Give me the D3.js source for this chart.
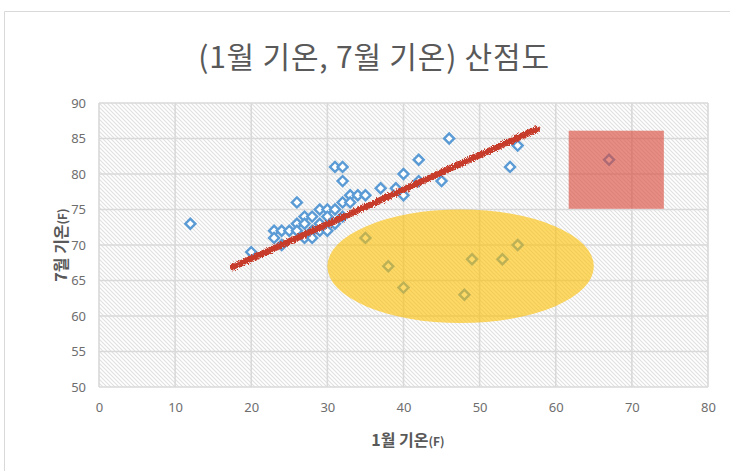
<!DOCTYPE html>
<html>
<head>
<meta charset="utf-8">
<script src="https://cdn.jsdelivr.net/npm/d3@7"></script>
<style>
  html, body { margin: 0; padding: 0; background: #fff; }
  svg { display: block; }
</style>
</head>
<body>
<svg id="chart" width="730" height="471"></svg>
<script>
// 1월 / 7월 평균 기온 (화씨)
const janTemp = [12, 20, 23, 23, 24, 24, 25, 26, 26, 26, 27, 27, 27, 28, 28, 28, 29, 29, 29, 30, 30, 30, 31, 31, 31, 32, 32, 32, 32, 33, 33, 34, 35, 37, 39, 40, 40, 42, 42, 45, 46, 54, 55,
                 35, 38, 40, 48, 49, 53, 55, 67];
const julTemp = [73, 69, 72, 71, 72, 70, 72, 76, 73, 72, 74, 73, 71, 74, 72, 71, 75, 73, 72, 75, 74, 72, 75, 81, 73, 81, 79, 76, 74, 77, 76, 77, 77, 78, 78, 80, 77, 82, 79, 79, 85, 81, 84,
                 71, 67, 64, 63, 68, 68, 70, 82];

const xTicks = [0, 10, 20, 30, 40, 50, 60, 70, 80];
const yTicks = [50, 55, 60, 65, 70, 75, 80, 85, 90];

// 추세선 끝점 [1월, 7월]
const trendStart = [17.6, 66.9];
const trendEnd = [57.5, 86.3];

// 강조 도형: 타원 (중심, 반지름) 과 사각형 (범위), 데이터 단위
const ellipseCenter = [47.5, 67.0];
const ellipseRadius = [17.5, 8.0];
const rectX = [61.7, 74.2];
const rectY = [75.1, 86.1];

const titleText = "(1월 기온, 7월 기온) 산점도";
const xTitle = "1월 기온";
const yTitle = "7월 기온";
const unitText = "(F)";

const svg = d3.select("#chart");
const W = 730, H = 471;
const plotL = 99, plotR = 708, plotT = 103, plotB = 387;

const x = d3.scaleLinear().domain([0, 80]).range([plotL, plotR]);
const y = d3.scaleLinear().domain([50, 90]).range([plotB, plotT]);

const defs = svg.append("defs");
const pat = defs.append("pattern")
  .attr("id", "hatch").attr("patternUnits", "userSpaceOnUse")
  .attr("width", 4).attr("height", 4);
pat.append("rect").attr("width", 4).attr("height", 4).attr("fill", "#ffffff");
pat.append("path").attr("d", "M-1,-1 L5,5 M-1,3 L1,5 M3,-1 L5,1")
  .attr("stroke", "#e0e0e0").attr("stroke-width", 1.1);

// 붓으로 그린 듯한 거친 선
const rough = defs.append("filter").attr("id", "rough")
  .attr("x", "-5%").attr("y", "-20%").attr("width", "110%").attr("height", "140%");
rough.append("feTurbulence").attr("type", "fractalNoise").attr("baseFrequency", 1.1)
  .attr("numOctaves", 2).attr("seed", 7).attr("result", "noise");
rough.append("feDisplacementMap").attr("in", "SourceGraphic").attr("in2", "noise")
  .attr("scale", 5.5).attr("xChannelSelector", "R").attr("yChannelSelector", "G");

// 차트 테두리
svg.append("path").attr("d", `M4.5,${H} L4.5,11.5 L${W},11.5`)
  .attr("fill", "none").attr("stroke", "#d9d9d9").attr("stroke-width", 1);

// 그림 영역 배경
svg.append("rect").attr("x", plotL).attr("y", plotT)
  .attr("width", plotR - plotL).attr("height", plotB - plotT)
  .attr("fill", "url(#hatch)");

// 눈금선
svg.append("g").selectAll("line").data(xTicks).join("line")
  .attr("x1", d => x(d)).attr("x2", d => x(d))
  .attr("y1", plotT).attr("y2", plotB)
  .attr("stroke", "#d9d9d9").attr("stroke-width", 1.6);
svg.append("g").selectAll("line").data(yTicks).join("line")
  .attr("x1", plotL).attr("x2", plotR)
  .attr("y1", d => y(d)).attr("y2", d => y(d))
  .attr("stroke", "#d9d9d9").attr("stroke-width", 1.6);

// 축 눈금 레이블
const labelFont = "'Noto Sans', 'Noto Sans CJK KR', sans-serif";
const xAxis = d3.axisBottom(x).tickValues(xTicks).tickSize(0).tickPadding(0);
const gx = svg.append("g").attr("transform", `translate(0,${plotB + 16})`).call(xAxis);
const yAxis = d3.axisLeft(y).tickValues(yTicks).tickSize(0).tickPadding(0);
const gy = svg.append("g").attr("transform", `translate(${plotL - 13},0)`).call(yAxis);
[gx, gy].forEach(g => {
  g.select(".domain").remove();
  g.selectAll("text").attr("fill", "#6e6e6e")
    .style("font-family", labelFont).style("font-size", "13px");
});
gx.selectAll("text").attr("dy", "0.71em");

// 데이터 점 (마름모)
const pts = janTemp.map((d, i) => [d, julTemp[i]]);
const diamond = d3.symbol().type(d3.symbolSquare).size(50);
svg.append("g").selectAll("path").data(pts).join("path")
  .attr("d", diamond)
  .attr("transform", d => `translate(${x(d[0])},${y(d[1])}) rotate(45)`)
  .attr("fill", "#ffffff").attr("stroke", "#5b9bd5").attr("stroke-width", 2.4);

// 추세선
svg.append("line")
  .attr("x1", x(trendStart[0])).attr("y1", y(trendStart[1]))
  .attr("x2", x(trendEnd[0])).attr("y2", y(trendEnd[1]))
  .attr("stroke", "#c63b2a").attr("stroke-width", 6.5)
  .attr("stroke-linecap", "round")
  .attr("filter", "url(#rough)");

// 타원 강조
svg.append("ellipse")
  .attr("cx", x(ellipseCenter[0])).attr("cy", y(ellipseCenter[1]))
  .attr("rx", x(ellipseCenter[0] + ellipseRadius[0]) - x(ellipseCenter[0]))
  .attr("ry", y(ellipseCenter[1]) - y(ellipseCenter[1] + ellipseRadius[1]))
  .attr("fill", "#ffc000").attr("fill-opacity", 0.6);

// 사각형 강조
svg.append("rect")
  .attr("x", x(rectX[0])).attr("y", y(rectY[1]))
  .attr("width", x(rectX[1]) - x(rectX[0]))
  .attr("height", y(rectY[0]) - y(rectY[1]))
  .attr("fill", "rgb(220,80,65)").attr("fill-opacity", 0.65);

// 제목
const korFont = "'Noto Sans CJK KR', sans-serif";
svg.append("text").attr("x", 374).attr("y", 68)
  .attr("text-anchor", "middle").attr("fill", "#595959")
  .style("font-family", korFont).style("font-size", "30px")
  .style("letter-spacing", "0.8px")
  .text(titleText);

// 축 제목
const xt = svg.append("text").attr("x", 408).attr("y", 446)
  .attr("text-anchor", "middle").attr("fill", "#595959")
  .style("font-family", korFont).style("font-weight", "bold").style("font-size", "16px");
xt.append("tspan").text(xTitle);
xt.append("tspan").style("font-size", "12px").text(unitText);

const yt = svg.append("text")
  .attr("transform", `translate(67,${(plotT + plotB) / 2}) rotate(-90)`)
  .attr("text-anchor", "middle").attr("fill", "#595959")
  .style("font-family", korFont).style("font-weight", "bold").style("font-size", "16px");
yt.append("tspan").text(yTitle);
yt.append("tspan").style("font-size", "12px").text(unitText);
</script>
</body>
</html>
